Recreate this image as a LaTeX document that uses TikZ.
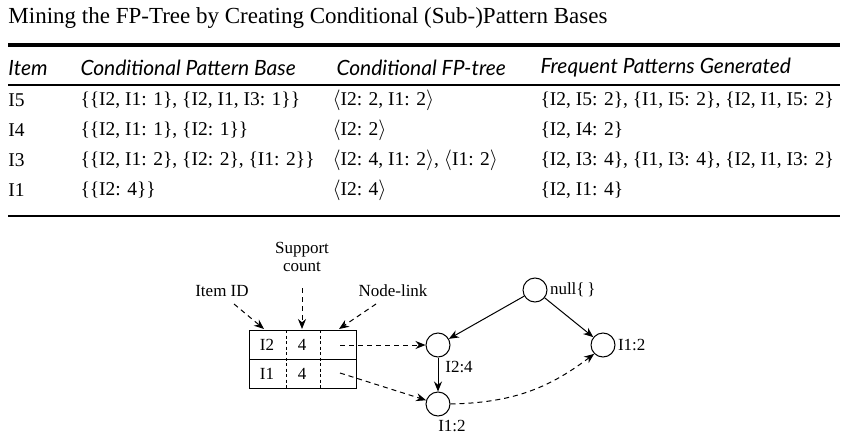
\documentclass[tikz,border=0pt]{standalone}
\usepackage{fontspec}
\setmainfont{Liberation Serif}
\newfontfamily\hdr{Lato}
\usetikzlibrary{arrows.meta}
\begin{document}
\begin{tikzpicture}[x=1pt,y=-1pt,line width=1pt,
  body/.style={anchor=west,font=\fontsize{19.5}{22}\selectfont,inner sep=0},
  head/.style={anchor=west,font=\hdr\itshape\fontsize{21}{23}\selectfont,inner sep=0},
  lab/.style={font=\fontsize{17}{18}\selectfont,inner sep=1pt,align=center},
  cir/.style={circle,draw,minimum size=24,inner sep=0},
  arr/.style={-{Stealth[length=10pt,width=8pt]}},
  darr/.style={arr,dash pattern=on 5pt off 4pt}]
\useasboundingbox (0,0) rectangle (850,433);
\node[anchor=west,inner sep=0,font=\fontsize{23}{25}\selectfont] (title) at (8,18) {Mining the FP-Tree by Creating Conditional (Sub-)Pattern Bases};
\draw[line width=3.5pt] (8,45) -- (840,45);
\node[head] (h1) at (8,68) {Item};
\node[head] (h2) at (80,68) {Conditional Pattern Base};
\node[head] (h3) at (336,68) {Conditional FP-tree};
\node[head] (h4) at (540,68) {Frequent Patterns Generated};
\draw[line width=1.2pt] (8,85) -- (840,85);
\foreach \y/\a/\b/\c/\d [count=\i] in {
 100/I5/{\{\{I2, I1: 1\}, \{I2, I1, I3: 1\}\}}/{$\langle$I2: 2, I1: 2$\rangle$}/{\{I2, I5: 2\}, \{I1, I5: 2\}, \{I2, I1, I5: 2\}},
 130/I4/{\{\{I2, I1: 1\}, \{I2: 1\}\}}/{$\langle$I2: 2$\rangle$}/{\{I2, I4: 2\}},
 160/I3/{\{\{I2, I1: 2\}, \{I2: 2\}, \{I1: 2\}\}}/{$\langle$I2: 4, I1: 2$\rangle$, $\langle$I1: 2$\rangle$}/{\{I2, I3: 4\}, \{I1, I3: 4\}, \{I2, I1, I3: 2\}},
 190/I1/{\{\{I2: 4\}\}}/{$\langle$I2: 4$\rangle$}/{\{I2, I1: 4\}}}{
  \node[body] (r\i a) at (8,\y) {\a};
  \node[body] (r\i b) at (80,\y) {\b};
  \node[body] (r\i c) at (332,\y) {\c};
  \node[body] (r\i d) at (540,\y) {\d};
}
\draw[line width=1.2pt] (8,216) -- (840,216);
% header table
\draw (249,330) rectangle (356,388);
\draw (249,359) -- (356,359);
\draw[dash pattern=on 3pt off 2.5pt] (286,330) -- (286,388);
\draw[dash pattern=on 3pt off 2.5pt] (320,330) -- (320,388);
\node[lab] (t1) at (267,345) {I2};
\node[lab] (t2) at (302,345) {4};
\node[lab] (t3) at (267,374) {I1};
\node[lab] (t4) at (302,374) {4};
\coordinate (l1) at (340,345);
\coordinate (l2) at (340,373);
\coordinate (p1) at (264,329);
\coordinate (p2) at (302,329);
\coordinate (p3) at (339,329);
\node[lab] (idl) at (222,291) {Item ID};
\node[lab] (scl) at (302,257) {Support\\count};
\node[lab] (nll) at (393,291) {Node-link};
\draw[darr] (234,304) -- (p1);
\draw[darr] (302,288) -- (p2);
\draw[darr] (376,304) -- (p3);
% tree
\node[cir] (nul) at (535,290) {};
\node[cir] (a) at (438,345) {};
\node[cir] (b) at (438,404) {};
\node[cir] (c) at (603,345) {};
\node[lab,anchor=west] at ([xshift=1]nul.east) {null\{\,\}};
\node[lab,anchor=north west] at ([xshift=-3,yshift=-6]a.south east) {I2:4};
\node[lab,anchor=north] at ([xshift=14,yshift=-2]b.south) {I1:2};
\node[lab,anchor=west] at ([xshift=1]c.east) {I1:2};
\draw[arr] (nul) -- (a);
\draw[arr] (nul) -- (c);
\draw[arr] (a) -- (b);
\draw[darr] (l1) -- (a);
\draw[darr] (l2) -- (b);
\draw[darr] (b.east) to[bend right=18] (c.south west);
\end{tikzpicture}
\end{document}
